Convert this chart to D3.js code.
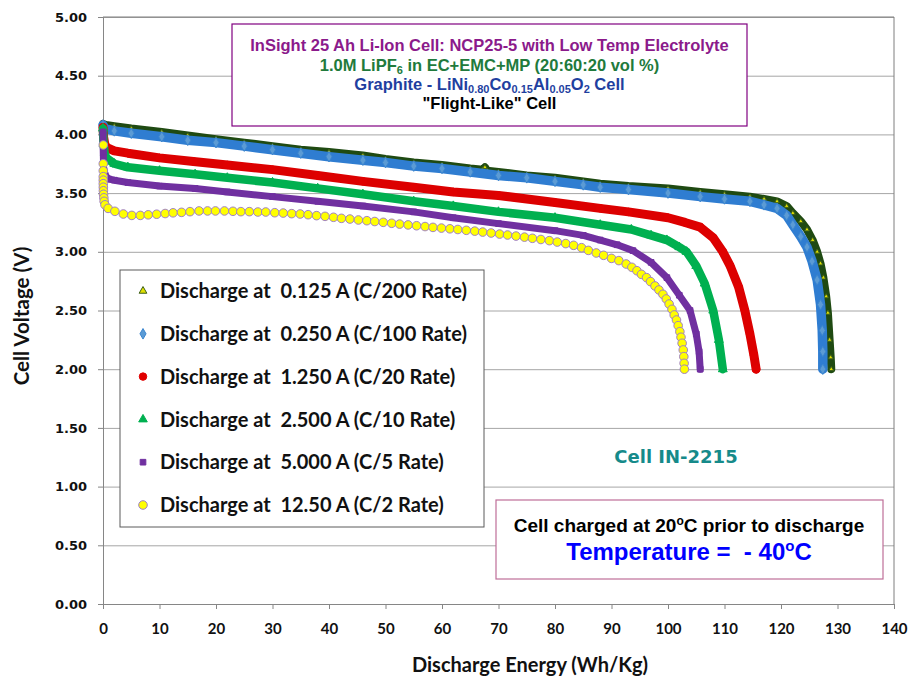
<!DOCTYPE html>
<html><head><meta charset="utf-8">
<script src="https://cdn.jsdelivr.net/npm/d3@7"></script>
<style>body{margin:0;background:#fff}</style>
</head><body>
<svg id="chart" width="910" height="681"></svg>
<script>
// ---------- data ----------
const xTicks = [0,10,20,30,40,50,60,70,80,90,100,110,120,130,140];
const yTicks = [0,0.5,1,1.5,2,2.5,3,3.5,4,4.5,5];
const seriesLabels = [
  "Discharge at  0.125 A (C/200 Rate)",
  "Discharge at  0.250 A (C/100 Rate)",
  "Discharge at  1.250 A (C/20 Rate)",
  "Discharge at  2.500 A (C/10 Rate)",
  "Discharge at  5.000 A (C/5 Rate)",
  "Discharge at  12.50 A (C/2 Rate)"
];
// [energy Wh/kg, voltage V]
const c200 = [[0,4.09],[0.5,4.08],[2,4.07],[5,4.05],[10.4,4.02],[15,3.99],[20,3.96],[25,3.93],[30,3.90],[35,3.87],[40,3.85],[46,3.82],[50,3.79],[55,3.76],[60,3.74],[65,3.71],[67.2,3.70],[67.6,3.72],[68,3.69],[70,3.68],[75,3.65],[80,3.63],[85,3.60],[88,3.58],[93,3.56],[100,3.54],[105.7,3.51],[110,3.49],[114.5,3.47],[117,3.45],[119.3,3.43],[121,3.39],[122.1,3.33],[123.5,3.26],[124.6,3.19],[125.6,3.10],[126.4,3.00],[127,2.90],[127.5,2.78],[128,2.62],[128.3,2.48],[128.6,2.25],[128.8,2.10],[128.9,2.0]];
const c100 = [[0,4.08],[0.3,4.05],[2,4.03],[5,4.01],[10.4,3.98],[15,3.95],[20,3.93],[25,3.90],[30,3.87],[35,3.84],[40,3.81],[46,3.78],[50,3.76],[55,3.73],[60,3.71],[65,3.68],[70,3.65],[75,3.63],[80,3.60],[85,3.57],[88,3.55],[93,3.53],[100,3.50],[105.7,3.47],[110,3.45],[114.5,3.43],[117,3.40],[119.3,3.37],[121,3.31],[122.1,3.23],[123.5,3.13],[124.6,3.04],[125.5,2.92],[126.4,2.76],[127,2.55],[127.3,2.33],[127.4,2.15],[127.4,2.0]];
const c20 = [[0,4.06],[0.1,3.98],[0.3,3.92],[0.6,3.89],[2,3.86],[4.4,3.84],[10,3.80],[16,3.77],[22,3.74],[30,3.70],[38,3.65],[46,3.60],[55,3.55],[62,3.51],[70,3.48],[80,3.42],[88,3.37],[93,3.34],[100,3.29],[103,3.25],[105.7,3.21],[108,3.12],[109.7,3.0],[111,2.88],[112.5,2.70],[113.6,2.5],[114.5,2.30],[115.2,2.12],[115.6,2.0]];
const c10 = [[0,4.05],[0.1,3.92],[0.3,3.84],[0.6,3.80],[2,3.75],[4.4,3.72],[10,3.69],[16.3,3.66],[22,3.63],[30,3.59],[38,3.54],[46,3.49],[55,3.43],[62,3.39],[70,3.34],[80,3.29],[88,3.23],[93.5,3.19],[97,3.14],[99.8,3.10],[102,3.04],[103.3,3.0],[105,2.88],[106.5,2.73],[108,2.5],[109,2.25],[109.7,2.0]];
const c5 = [[0,4.02],[0.05,3.85],[0.1,3.72],[0.4,3.65],[1,3.62],[2,3.61],[4.4,3.59],[10,3.56],[16.3,3.54],[22,3.51],[30,3.47],[38,3.43],[46,3.39],[55,3.34],[62,3.29],[70,3.24],[80,3.18],[85,3.14],[88,3.10],[91,3.06],[93.8,3.01],[97,2.91],[99.8,2.78],[102,2.63],[103.9,2.5],[105,2.30],[105.5,2.15],[105.7,2.0]];
const c2 = [[0.05,3.91],[0.05,3.75],[0.05,3.69],[0.05,3.64],[0.05,3.61],[0.05,3.58],[0.06,3.55],[0.07,3.52],[0.1,3.49],[0.15,3.46],[0.2,3.43],[0.35,3.40],[0.9,3.37],[2.1,3.345],[3.6,3.322],[5.1,3.31],[6.6,3.31],[8.0,3.315],[9.5,3.32],[11.0,3.326],[12.4,3.332],[13.9,3.336],[15.4,3.342],[17.0,3.348],[18.5,3.348],[19.9,3.348],[21.5,3.348],[23.0,3.345],[24.4,3.342],[25.9,3.342],[27.4,3.339],[28.8,3.339],[30.4,3.333],[31.9,3.330],[33.4,3.325],[34.9,3.322],[36.3,3.316],[37.8,3.308],[39.3,3.302],[40.8,3.294],[42.2,3.285],[43.7,3.279],[45.2,3.271],[46.7,3.265],[48.1,3.258],[49.6,3.251],[51.1,3.243],[52.5,3.236],[54.0,3.229],[55.5,3.222],[57.0,3.215],[58.4,3.208],[59.9,3.202],[61.4,3.196],[62.8,3.19],[64.3,3.183],[65.8,3.176],[67.2,3.168],[68.7,3.16],[70.2,3.151],[71.6,3.143],[73.1,3.134],[74.6,3.125],[76.0,3.115],[77.5,3.105],[79.0,3.095],[80.4,3.083],[81.9,3.07],[83.3,3.055],[84.7,3.035],[85.9,3.012],[87.3,2.99],[88.6,2.97],[90.0,2.944],[91.3,2.925],[92.6,2.896],[93.6,2.868],[94.5,2.839],[95.3,2.808],[96.2,2.78],[96.9,2.746],[97.7,2.709],[98.4,2.675],[99.1,2.638],[99.7,2.598],[100.2,2.555],[100.7,2.51],[101.1,2.462],[101.5,2.419],[101.8,2.371],[102.1,2.32],[102.3,2.272],[102.5,2.221],[102.7,2.164],[102.8,2.107],[102.85,2.05],[102.9,2.0]];

const seriesData = [c200, c100, c20, c10, c5, c2];
const bandColors = ["#1f4a12","#2f7dd1","#dc0000","#00b050","#7030a0",null];
const markerFill = ["#e0e000","#5b9bd5","#e00000","#00b050","#7030a0","#ffff00"];
const markerStroke = ["#3b5e1a","#3a85cf","#e00000","#00b050","#7030a0","#9f80c8"];
const bandWidth = [8,9.5,9,8.5,7,0];
const symbols = [d3.symbolTriangle, d3.symbolDiamond, d3.symbolCircle, d3.symbolTriangle, d3.symbolSquare, d3.symbolCircle];
const symbolSize = [26,32,44,32,32,58];
const plotSymbolSize = [10,32,44,34,32,58];

// ---------- layout ----------
const svg = d3.select("#chart");
const L = 103, R = 894, T = 17, B = 604;
const x = d3.scaleLinear().domain([0,140]).range([L,R]);
const y = d3.scaleLinear().domain([0,5]).range([B,T]);

// gridlines
svg.append("g").attr("transform",`translate(${L},0)`)
  .call(d3.axisLeft(y).tickValues(yTicks).tickSize(-(R-L)).tickFormat(""))
  .call(g=>g.select(".domain").remove())
  .call(g=>g.selectAll("line").attr("stroke","#a6a6a6").attr("stroke-width",1));

// plot border (top/right)
svg.append("line").attr("x1",R).attr("x2",R).attr("y1",T).attr("y2",B).attr("stroke","#7f7f7f");
svg.append("line").attr("x1",L).attr("x2",R).attr("y1",T).attr("y2",T).attr("stroke","#7f7f7f");

// axes
const yAxis = svg.append("g").attr("transform",`translate(${L},0)`)
  .call(d3.axisLeft(y).tickValues(yTicks).tickSize(5).tickPadding(11).tickFormat(d3.format(".2f")));
const xAxis = svg.append("g").attr("transform",`translate(0,${B})`)
  .call(d3.axisBottom(x).tickValues(xTicks).tickSize(5).tickPadding(14).tickFormat(d3.format("d")));
[yAxis,xAxis].forEach(a=>{
  a.select(".domain").attr("stroke","#868686");
  a.selectAll(".tick line").attr("stroke","#868686");
});
yAxis.selectAll("text").attr("font-family","DejaVu Sans").attr("font-weight","bold").attr("font-size",13).attr("fill","#111");
xAxis.selectAll("text").attr("font-family","Lato").attr("font-weight","bold").attr("font-size",15).attr("fill","#111");

// axis titles
svg.append("text").attr("x",530).attr("y",672).attr("text-anchor","middle")
  .attr("font-family","Lato").attr("font-weight","bold").attr("font-size",20).attr("fill","#111")
  .text("Discharge Energy (Wh/Kg)");
svg.append("text").attr("transform","translate(29,316) rotate(-90)").attr("text-anchor","middle")
  .attr("font-family","Lato").attr("font-weight","bold").attr("font-size",20.5).attr("fill","#111")
  .text("Cell Voltage (V)");

// series
const line = d3.line().x(d=>x(d[0])).y(d=>y(d[1]));
const plot = svg.append("g");
seriesData.forEach((data,i)=>{
  const g = plot.append("g");
  if (bandColors[i]) {
    g.append("path").datum(data).attr("d",line).attr("fill","none")
      .attr("stroke",bandColors[i]).attr("stroke-width",bandWidth[i])
      .attr("stroke-linejoin","round").attr("stroke-linecap","round");
  }
  g.selectAll("path.m").data(data).join("path").attr("class","m")
    .attr("transform",d=>`translate(${x(d[0])},${y(d[1])})`)
    .attr("d",d3.symbol().type(symbols[i]).size(plotSymbolSize[i]))
    .attr("fill",markerFill[i]).attr("stroke",markerStroke[i]).attr("stroke-width",1);
});

// legend
const lg = svg.append("g");
lg.append("rect").attr("x",120).attr("y",270).attr("width",364).attr("height",257)
  .attr("fill","#fff").attr("stroke","#5a5a5a").attr("stroke-width",1);
seriesLabels.forEach((lab,i)=>{
  const cy = 291 + i*42.8;
  lg.append("path").attr("transform",`translate(143,${cy})`)
    .attr("d",d3.symbol().type(symbols[i]).size(symbolSize[i]))
    .attr("fill",markerFill[i]).attr("stroke",markerStroke[i]).attr("stroke-width",1);
  lg.append("text").attr("x",160).attr("y",cy).attr("dy","0.36em")
    .attr("font-family","Lato").attr("font-weight","bold").attr("font-size",20).attr("fill","#111")
    .attr("xml:space","preserve").style("white-space","pre").text(lab);
});

// title box
const tb = svg.append("g");
tb.append("rect").attr("x",232).attr("y",24).attr("width",515).attr("height",102)
  .attr("fill","#fff").attr("stroke","#800080").attr("stroke-width",1.2);
const tcx = 489.5;
const tf = "Liberation Sans";
const tfs = 16.5;
tb.append("text").attr("x",tcx).attr("y",51).attr("text-anchor","middle")
  .attr("font-family",tf).attr("font-weight","bold").attr("font-size",tfs).attr("fill","#8b1a8b")
  .text("InSight 25 Ah Li-Ion Cell: NCP25-5 with Low Temp Electrolyte");
const t2 = tb.append("text").attr("x",tcx).attr("y",71).attr("text-anchor","middle")
  .attr("font-family",tf).attr("font-weight","bold").attr("font-size",tfs).attr("fill","#217a3c");
t2.append("tspan").text("1.0M LiPF");
t2.append("tspan").attr("font-size",11).attr("dy",3).text("6");
t2.append("tspan").attr("dy",-3).text(" in EC+EMC+MP (20:60:20 vol %)");
const t3 = tb.append("text").attr("x",tcx).attr("y",90).attr("text-anchor","middle")
  .attr("font-family",tf).attr("font-weight","bold").attr("font-size",tfs).attr("fill","#1f3f9f");
[["Graphite - LiNi",0],["0.80",1],["Co",0],["0.15",1],["Al",0],["0.05",1],["O",0],["2",1],[" Cell",0]].forEach((p,k,arr)=>{
  const prevSub = k>0 && arr[k-1][1];
  const ts = t3.append("tspan").text(p[0]);
  if (p[1]) ts.attr("font-size",11).attr("dy",prevSub?0:3);
  else if (prevSub) ts.attr("dy",-3);
});
tb.append("text").attr("x",tcx).attr("y",109).attr("text-anchor","middle")
  .attr("font-family",tf).attr("font-weight","bold").attr("font-size",tfs).attr("fill","#000")
  .text("\"Flight-Like\" Cell");

// cell id
svg.append("text").attr("x",676).attr("y",463).attr("text-anchor","middle")
  .attr("font-family","DejaVu Sans").attr("font-weight","bold").attr("font-size",18).attr("fill","#168a8a")
  .text("Cell IN-2215");

// conditions box
const cb = svg.append("g");
cb.append("rect").attr("x",496).attr("y",500).attr("width",387).attr("height",79)
  .attr("fill","#fff").attr("stroke","#bf6e98").attr("stroke-width",1.2);
const c1 = cb.append("text").attr("x",689).attr("y",532).attr("text-anchor","middle")
  .attr("font-family",tf).attr("font-weight","bold").attr("font-size",19).attr("fill","#000");
c1.append("tspan").text("Cell charged at 20");
c1.append("tspan").attr("font-size",12).attr("dy",-7).text("o");
c1.append("tspan").attr("dy",7).text("C prior to discharge");
const c2t = cb.append("text").attr("x",689).attr("y",560).attr("text-anchor","middle")
  .attr("font-family",tf).attr("font-weight","bold").attr("font-size",24).attr("fill","#0000ff")
  .attr("xml:space","preserve").style("white-space","pre");
c2t.append("tspan").text("Temperature =  - 40");
c2t.append("tspan").attr("font-size",15).attr("dy",-9).text("o");
c2t.append("tspan").attr("dy",9).text("C");
</script>
</body></html>
